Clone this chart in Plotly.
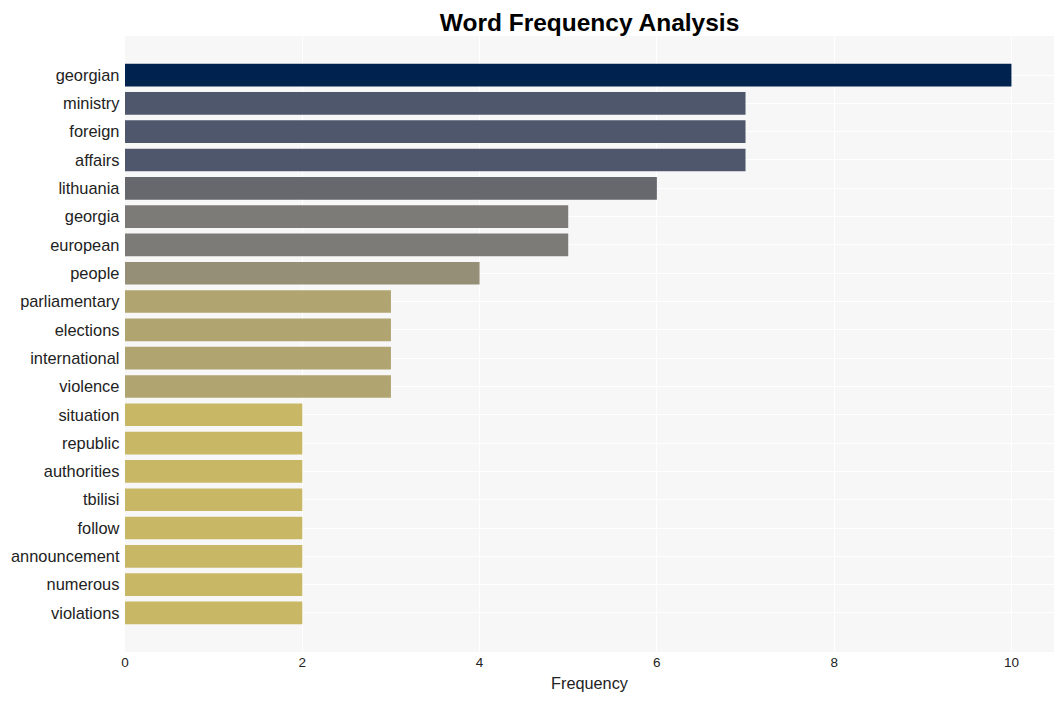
import plotly.graph_objects as go

words = ["georgian", "ministry", "foreign", "affairs", "lithuania", "georgia",
         "european", "people", "parliamentary", "elections", "international",
         "violence", "situation", "republic", "authorities", "tbilisi", "follow",
         "announcement", "numerous", "violations"]
counts = [10, 7, 7, 7, 6, 5, 5, 4, 3, 3, 3, 3, 2, 2, 2, 2, 2, 2, 2, 2]
color_by_count = {10: "#00224e", 7: "#4f576c", 6: "#67686e", 5: "#7c7b78",
                  4: "#958f78", 3: "#b0a470", 2: "#c8b866"}
bar_colors = [color_by_count[c] for c in counts]

fig = go.Figure(go.Bar(
    x=counts, y=words, orientation="h",
    marker=dict(color=bar_colors, line=dict(width=0)),
))

fig.update_layout(
    width=1064, height=701,
    paper_bgcolor="white", plot_bgcolor="#f7f7f7",
    font=dict(family="Liberation Sans, Arial, sans-serif", color="#222"),
    title=dict(text="<b>Word Frequency Analysis</b>", x=0.5, xref="paper",
               xanchor="center", y=0.980, yanchor="middle", automargin=False,
               font=dict(size=24.5, color="black")),
    margin=dict(l=117, r=18, t=28, b=57, autoexpand=False),
    bargap=0.2,
    showlegend=False,
)
fig.update_xaxes(range=[0, 10.48], dtick=2, showgrid=True, gridcolor="white",
                 zeroline=False, tickfont=dict(size=13.5), automargin=False,
                 title=dict(text="Frequency", font=dict(size=16.3), standoff=9))
fig.update_yaxes(range=[20.38, -1.38], showgrid=True, gridcolor="white",
                 tickfont=dict(size=16.4), ticksuffix=" ", automargin=False)

fig.write_html("out.html")
